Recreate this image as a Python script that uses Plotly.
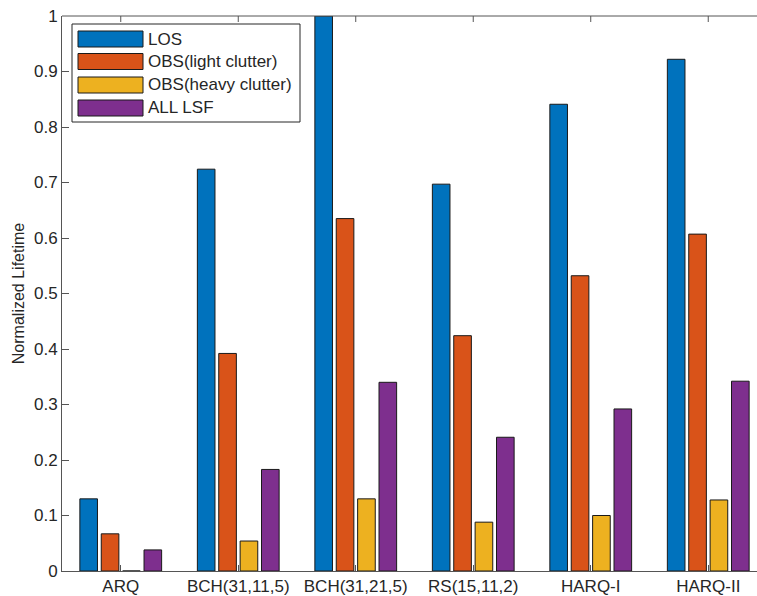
import plotly.graph_objects as go

categories = ["ARQ", "BCH(31,11,5)", "BCH(31,21,5)", "RS(15,11,2)", "HARQ-I", "HARQ-II"]
series_names = ["LOS", "OBS(light clutter)", "OBS(heavy clutter)", "ALL LSF"]
los = [0.130, 0.724, 1.000, 0.697, 0.841, 0.922]
obs_light = [0.067, 0.392, 0.635, 0.424, 0.532, 0.607]
obs_heavy = [0.000, 0.054, 0.130, 0.088, 0.100, 0.128]
all_lsf = [0.038, 0.183, 0.340, 0.241, 0.292, 0.342]
y_ticks = [0, 0.1, 0.2, 0.3, 0.4, 0.5, 0.6, 0.7, 0.8, 0.9, 1]
y_ticktext = ["0", "0.1", "0.2", "0.3", "0.4", "0.5", "0.6", "0.7", "0.8", "0.9", "1"]

colors = ["#0072BD", "#D95319", "#EDB120", "#7E2F8E"]
series = [los, obs_light, obs_heavy, all_lsf]

W, H = 757, 596
L, R, T, B = 62, 0, 16, 25
pw, ph = W - L - R, H - T - B

def px(x):
    return (x - L) / pw

def py(y):
    return (H - B - y) / ph

fig = go.Figure()
for name, vals, c in zip(series_names, series, colors):
    fig.add_trace(go.Bar(x=categories, y=vals, name=name,
                         marker=dict(color=c, line=dict(color="#1a1a1a", width=1)),
                         showlegend=False))

axcol = "#555555"
font = dict(family="Liberation Sans, Arial, sans-serif", size=17, color="#262626")
title_font = dict(family="Liberation Sans, Arial, sans-serif", size=16, color="#262626")

fig.update_layout(
    width=W, height=H,
    margin=dict(l=L, r=R, t=T, b=B, autoexpand=False),
    paper_bgcolor="white", plot_bgcolor="white",
    barmode="group", bargap=0.272, bargroupgap=0.176,
    font=font,
    xaxis=dict(range=[-0.5, 5.415], showline=True, linecolor=axcol, linewidth=1,
               ticks="inside", ticklen=6, tickcolor=axcol, tickwidth=1,
               showgrid=False, zeroline=False, tickfont=font, automargin=False),
    yaxis=dict(range=[0, 1], tickvals=y_ticks, ticktext=y_ticktext,
               showline=True, linecolor=axcol, linewidth=1,
               ticks="inside", ticklen=7, tickcolor=axcol, tickwidth=1,
               showgrid=False, zeroline=False, tickfont=font, automargin=False,
               title=dict(text="Normalized Lifetime", font=title_font, standoff=5)),
)

shapes = []
shapes.append(dict(type="line", xref="paper", yref="paper", x0=0, x1=1, y0=1, y1=1,
                   line=dict(color=axcol, width=1)))
for i in range(len(categories)):
    shapes.append(dict(type="line", xref="x", yref="paper", x0=i, x1=i,
                       y0=1, y1=1 - 6 / ph, line=dict(color=axcol, width=1)))

shapes.append(dict(type="rect", xref="paper", yref="paper",
                   x0=px(72), x1=px(300), y0=py(122), y1=py(24),
                   line=dict(color="#262626", width=1), fillcolor="white"))
annotations = []
row_centers = [39, 61.5, 85, 108]
for name, c, yc in zip(series_names, colors, row_centers):
    shapes.append(dict(type="rect", xref="paper", yref="paper",
                       x0=px(78), x1=px(143), y0=py(yc + 8), y1=py(yc - 8),
                       line=dict(color="#1a1a1a", width=1), fillcolor=c))
    annotations.append(dict(text=name, xref="paper", yref="paper",
                            x=px(146), y=py(yc), xanchor="left", yanchor="middle",
                            showarrow=False, font=font))

fig.update_layout(shapes=shapes, annotations=annotations)
fig.write_html("out.html", config={"displayModeBar": False},
               post_script="document.body.style.margin='0';")
